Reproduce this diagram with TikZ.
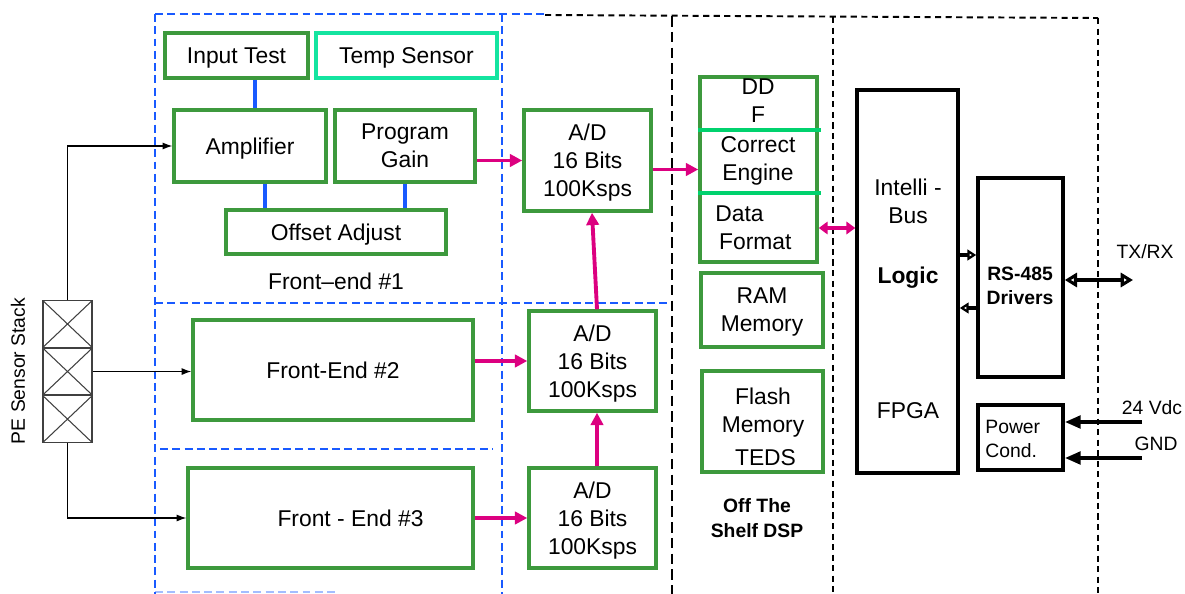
\documentclass[tikz,border=0pt]{standalone}
\usepackage{fontspec}
\setmainfont{Liberation Sans}
\usepackage{xcolor}
\usepackage{tikz}
\usetikzlibrary{arrows.meta,positioning,calc}
\definecolor{FEgreen}{RGB}{61,153,61}
\definecolor{FEteal}{RGB}{20,228,160}
\definecolor{FEmint}{RGB}{0,210,110}
\definecolor{FEblue}{RGB}{25,90,255}
\definecolor{FEmagenta}{RGB}{220,0,128}
\newcommand{\fbig}{\fontsize{13}{16}\selectfont}
\newcommand{\fsmall}{\fontsize{11}{14}\selectfont}
\tikzstyle{gbox}  = [rectangle, draw=FEgreen, line width=2pt,
                     align=center, inner sep=2pt, font=\fbig, text depth=-3.5pt]
\tikzstyle{kbox}  = [rectangle, draw=black, line width=2pt, inner sep=0pt]
\tikzstyle{cell}  = [rectangle, draw=black!75, line width=0.6pt,
                     minimum width=0.98cm, minimum height=0.93cm,
                     path picture={\draw[black!75, line width=0.6pt]
                       (path picture bounding box.north west) -- (path picture bounding box.south east)
                       (path picture bounding box.north east) -- (path picture bounding box.south west);}]
\tikzstyle{txt}   = [align=center, inner sep=0pt, font=\fbig]
\tikzstyle{stxt}  = [align=center, inner sep=0pt, font=\fsmall]
\tikzstyle{link}  = [draw=FEblue, line width=2pt]
\tikzstyle{bus}   = [draw=FEmagenta, line width=2.2pt, -{Triangle[length=7pt,width=7pt]}]
\tikzstyle{sig}   = [draw=black, line width=0.6pt, -{Latex[length=5.5pt,width=4pt]}]
\tikzstyle{fat}   = [draw=black, line width=2.2pt]
\tikzstyle{fbl}   = [draw=FEblue, line width=1.1pt, dash pattern=on 4.5pt off 2.5pt]
\tikzstyle{fbk}   = [draw=black, line width=1.1pt, dash pattern=on 3.5pt off 2.5pt]

\begin{document}
\begin{tikzpicture}[x=0.02cm, y=-0.02cm]
  \useasboundingbox (0,0) rectangle (1185,594);

  % dashed partitions
  \draw[fbl] (155,14) -- (545,14);
  \draw[fbl] (155,14) -- (155,594);
  \draw[fbl] (502,14) -- (502,594);
  \draw[fbl] (155,303) -- (667,303);
  \draw[fbl] (160,449) -- (493,449);
  \draw[fbl, opacity=0.4] (155,592) -- (335,592);
  \draw[fbk] (545,15) -- (1098,18);
  \draw[fbk, dash pattern=on 6pt off 3pt] (672,16) -- (672,594);
  \draw[fbk] (833,17) -- (833,594);
  \draw[fbk] (1098,18) -- (1098,594);

  % front-end #1
  \node[gbox, minimum width=2.86cm, minimum height=0.9cm] (it) at (236.5,55.5) {Input Test};
  \node[gbox, draw=FEteal, minimum width=3.62cm, minimum height=0.9cm] (ts) at (406.5,55.5) {Temp Sensor};
  \node[gbox, minimum width=3.04cm, minimum height=1.44cm] (amp) at (250,146) {Amplifier};
  \node[gbox, minimum width=2.8cm, minimum height=1.44cm] (pg) at (405,146) {Program\\Gain};
  \node[gbox, minimum width=4.4cm, minimum height=0.88cm] (offs) at (336,232) {Offset Adjust};
  \node[txt] (fe1) at (336,281) {Front--end \#1};

  % front-ends #2 and #3
  \node[gbox, minimum width=5.6cm, minimum height=2.0cm] (fe2) at (333,370) {Front-End \#2};
  \node[gbox, minimum width=5.7cm, minimum height=2.0cm, text depth=0pt] (fe3) at (330.5,518) {\hspace*{0.8cm}Front - End \#3};

  % converters
  \node[gbox, minimum width=2.54cm, minimum height=2.02cm] (ad1) at (587.5,160.5) {A/D\\16 Bits\\100Ksps};
  \node[gbox, minimum width=2.54cm, minimum height=2.0cm] (ad2) at (592.5,361) {A/D\\16 Bits\\100Ksps};
  \node[gbox, minimum width=2.54cm, minimum height=2.0cm] (ad3) at (592.5,518) {A/D\\16 Bits\\100Ksps};

  % DSP
  \node[gbox, minimum width=2.34cm, minimum height=3.7cm] (ddf) at (758.5,169.5) {};
  \draw[FEmint, line width=2pt] (ddf.west |- 0,130) -- ([xshift=0.04cm]ddf.east |- 0,130);
  \draw[FEmint, line width=2pt] (ddf.west |- 0,193) -- ([xshift=0.04cm]ddf.east |- 0,193);
  \node[txt] (ddft) at (758,101) {DD\\F};
  \node[txt] (cor) at (758,161) {Correct\\Engine};
  \node[txt, align=left, anchor=west] (fmt) at (715,228) {Data\\\,Format};
  \node[gbox, minimum width=2.44cm, minimum height=1.48cm] (ram) at (762,310) {RAM\\Memory};
  \node[gbox, minimum width=2.42cm, minimum height=2.02cm] (fls) at (762.5,421.5) {};
  \node[txt] (flst) at (763,427) {Flash\\Memory\\[3pt]\hspace*{0.1cm}TEDS};
  \node[stxt, font=\fsmall\bfseries] (dsp) at (757,518) {Off The\\Shelf DSP};

  % logic, drivers, power
  \node[kbox, minimum width=2.02cm, minimum height=7.66cm] (fpga) at (907.5,281.5) {};
  \node[txt] (ib) at (908,201) {Intelli -\\Bus};
  \node[txt, font=\fbig\bfseries] (lg) at (908,278) {Logic};
  \node[txt] (fp) at (908,411) {FPGA};
  \node[kbox, minimum width=1.7cm, minimum height=3.98cm] (rs) at (1020.5,277.5) {};
  \node[stxt, font=\fsmall\bfseries] (rst) at (1020,286) {RS-485\\Drivers};
  \node[kbox, minimum width=1.7cm, minimum height=1.3cm] (pwr) at (1020.5,437.5) {};
  \node[stxt, align=left, anchor=west] (pwrt) at (985,439) {Power\\Cond.};

  % sensor stack
  \node[cell] (s1) at (67.5,324) {};
  \node[cell, below=0pt of s1] (s2) {};
  \node[cell, below=0pt of s2] (s3) {};
  \node[stxt, font=\fsmall, rotate=90] (pe) at (18,371) {PE Sensor Stack};

  % sensor wiring
  \draw[sig] (s1.north) |- (amp.west);
  \draw[sig] (s2.east) -- (s2.east -| fe2.west);
  \draw[sig] (s3.south) |- (fe3.west);

  % front-end #1 links
  \draw[link] ([xshift=0.1cm]amp.north) -- ([xshift=0.1cm]amp.north |- it.south);
  \draw[link] ([xshift=0.3cm]amp.south) -- ([xshift=0.3cm]amp.south |- offs.north);
  \draw[link] (pg.south) -- (pg.south |- offs.north);

  % data paths
  \draw[bus] (ad1.west -| pg.east) -- (ad1.west);
  \draw[bus] (ddf.west -| ad1.east) -- (ddf.west);
  \draw[bus] (ad2.west -| fe2.east) -- (ad2.west);
  \draw[bus] (fe3.east) -- (fe3.east -| ad3.west);
  \draw[bus] ([xshift=0.09cm]ad2.north) -- ([xshift=0.09cm]ad1.south);
  \draw[bus] ([xshift=0.09cm]ad3.north) -- ([xshift=0.09cm]ad2.south);
  \draw[bus, {Triangle[length=5pt,width=7pt]}-{Triangle[length=5pt,width=7pt]}, line width=1.8pt]
    (ddf.east |- fmt) -- (fpga.west |- fmt);

  % logic <-> drivers
  \coordinate (tx) at ($(rs.west)+(0,-22.5)$);
  \coordinate (rx) at ($(rs.west)+(0,30.5)$);
  \draw[fat, line width=2pt, -{Triangle[open,length=5pt,width=6pt]}] (fpga.east |- tx) -- (tx);
  \draw[fat, line width=2pt, -{Triangle[open,length=5pt,width=6pt]}] (rx) -- (fpga.east |- rx);

  % external lines
  \coordinate (trx) at (1133,280);
  \draw[fat, {Triangle[open,length=7pt,width=8pt]}-{Triangle[open,length=7pt,width=8pt]}] (rs.east |- trx) -- (trx);
  \node[stxt] (trxl) at (1145,252) {TX/RX};
  \coordinate (vin) at (1142,422);
  \coordinate (gnd) at (1142,458);
  \draw[fat, -{Triangle[length=9pt,width=7pt]}] (vin) -- (vin -| pwr.east);
  \draw[fat, -{Triangle[length=9pt,width=7pt]}] (gnd) -- (gnd -| pwr.east);
  \node[stxt] (vinl) at (1152,408) {24 Vdc};
  \node[stxt] (gndl) at (1156,444) {GND};

\end{tikzpicture}
\end{document}
